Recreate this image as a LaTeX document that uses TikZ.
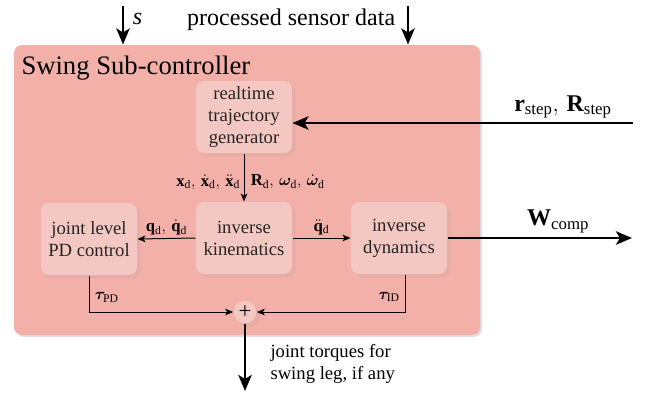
\documentclass[tikz,border=0pt]{standalone}
\usepackage{fontspec}
\setmainfont{Liberation Serif}
\usepackage{amsmath}
\usepackage{bm}
\usetikzlibrary{arrows.meta,shadows,positioning,calc}

\definecolor{subctrl}{RGB}{243,176,168}
\definecolor{blockfill}{RGB}{243,200,195}
\definecolor{blockedge}{RGB}{231,172,166}
\definecolor{blocktext}{RGB}{40,36,36}

\tikzset{every picture/.style={line width=0.75pt}}
\tikzset{
  block/.style={fill=blockfill, rounded corners=6pt, inner sep=2pt,
    minimum width=72pt, minimum height=54pt, align=center, text=blocktext,
    font=\fontsize{14}{16.5}\selectfont,
    copy shadow={shadow xshift=2.5pt, shadow yshift=-2.5pt, fill=blockedge, draw=none}},
  sumnode/.style={circle, fill=blockfill, inner sep=0pt, minimum size=17pt,
    font=\fontsize{17}{17}\selectfont,
    copy shadow={shadow xshift=3pt, shadow yshift=-3pt, fill=blockedge, draw=none}},
  bigarrow/.style={line width=2pt, -{Stealth[length=12pt,width=10pt,inset=3pt]}},
  smallarrow/.style={line width=0.75pt, -{Stealth[length=6pt,width=5pt,inset=1.5pt]}},
  biglabel/.style={font=\fontsize{18}{18}\selectfont, inner sep=1pt},
  smalllabel/.style={font=\fontsize{12.5}{12.5}\selectfont, inner sep=1pt},
}

\begin{document}
\begin{tikzpicture}[x=0.75pt,y=0.75pt,yscale=-1,xscale=1]
\useasboundingbox (0,0) rectangle (650,396);

% Sub-controller frame
\node[fill=subctrl, rounded corners=6pt, minimum width=349.5pt, minimum height=217.5pt,
  drop shadow={opacity=0.25, shadow xshift=1.5pt, shadow yshift=-1.5pt}] (swing) at (247,190) {};
\node[anchor=base west, inner sep=0pt, font=\fontsize{20}{20}\selectfont] (title) at (21,74) {Swing Sub-controller};

% Blocks
\node[block] (traj) at (244,117) {realtime\\trajectory\\generator};
\node[block] (ik) at (244,238) {inverse\\kinematics};
\node[block] (pd) at (89,239) {joint level\\PD control};
\node[block] (id) at (399,238) {inverse\\dynamics};
\node[sumnode] (sum) at (245,312) {+};

% Inputs from above
\coordinate (sin) at (123,6);
\coordinate (sensin) at (408,6);
\draw[bigarrow] (sin) -- (sin |- swing.north);
\draw[bigarrow] (sensin) -- (sensin |- swing.north);
\node[biglabel, anchor=west] (slabel) at (131,19) {\itshape s};
\node[biglabel, anchor=east] (senslabel) at (397,20) {processed sensor data};

% Step target input
\coordinate (rin) at (633,123);
\draw[bigarrow] (rin) -- (rin -| traj.east);
\node[biglabel] (rlabel) at (563,107) {$\mathbf{r}_{\mathrm{step}},\,\mathbf{R}_{\mathrm{step}}$};

% Desired trajectory
\draw[smallarrow] (traj) -- (ik);
\node[smalllabel, anchor=east] (xlabel) at (242,182) {$\mathbf{x}_{\mathrm{d}},\,\dot{\mathbf{x}}_{\mathrm{d}},\,\ddot{\mathbf{x}}_{\mathrm{d}}$};
\node[smalllabel, anchor=west] (rdlabel) at (249,182) {$\mathbf{R}_{\mathrm{d}},\,\bm{\omega}_{\mathrm{d}},\,\dot{\bm{\omega}}_{\mathrm{d}}$};

% Joint references
\draw[smallarrow] (ik.west) -- node[smalllabel, above=1pt] {$\mathbf{q}_{\mathrm{d}},\,\dot{\mathbf{q}}_{\mathrm{d}}$} (pd.east);
\draw[smallarrow] (ik.east) -- node[smalllabel, above=1pt] {$\ddot{\mathbf{q}}_{\mathrm{d}}$} (id.west);

% Torque summation
\draw[smallarrow] (pd.south) |- node[smalllabel, pos=0.3, right=3pt] {$\bm{\tau}_{\mathrm{PD}}$} (sum.west);
\draw[smallarrow] ([xshift=5pt]id.south) |- node[smalllabel, pos=0.3, left=3pt] {$\bm{\tau}_{\mathrm{ID}}$} (sum.east);

% Outputs
\coordinate (tqout) at (245,391);
\draw[bigarrow] (sum.south) -- (tqout);
\node[anchor=west, align=left, inner sep=0pt, font=\fontsize{14}{16.5}\selectfont] (tqlabel) at (270,364) {joint torques for\\swing leg, if any};
\coordinate (wout) at (632,238);
\draw[bigarrow] (id.east) -- node[biglabel, pos=0.6, above=2pt] {$\mathbf{W}_{\mathrm{comp}}$} (wout);

\end{tikzpicture}
\end{document}
